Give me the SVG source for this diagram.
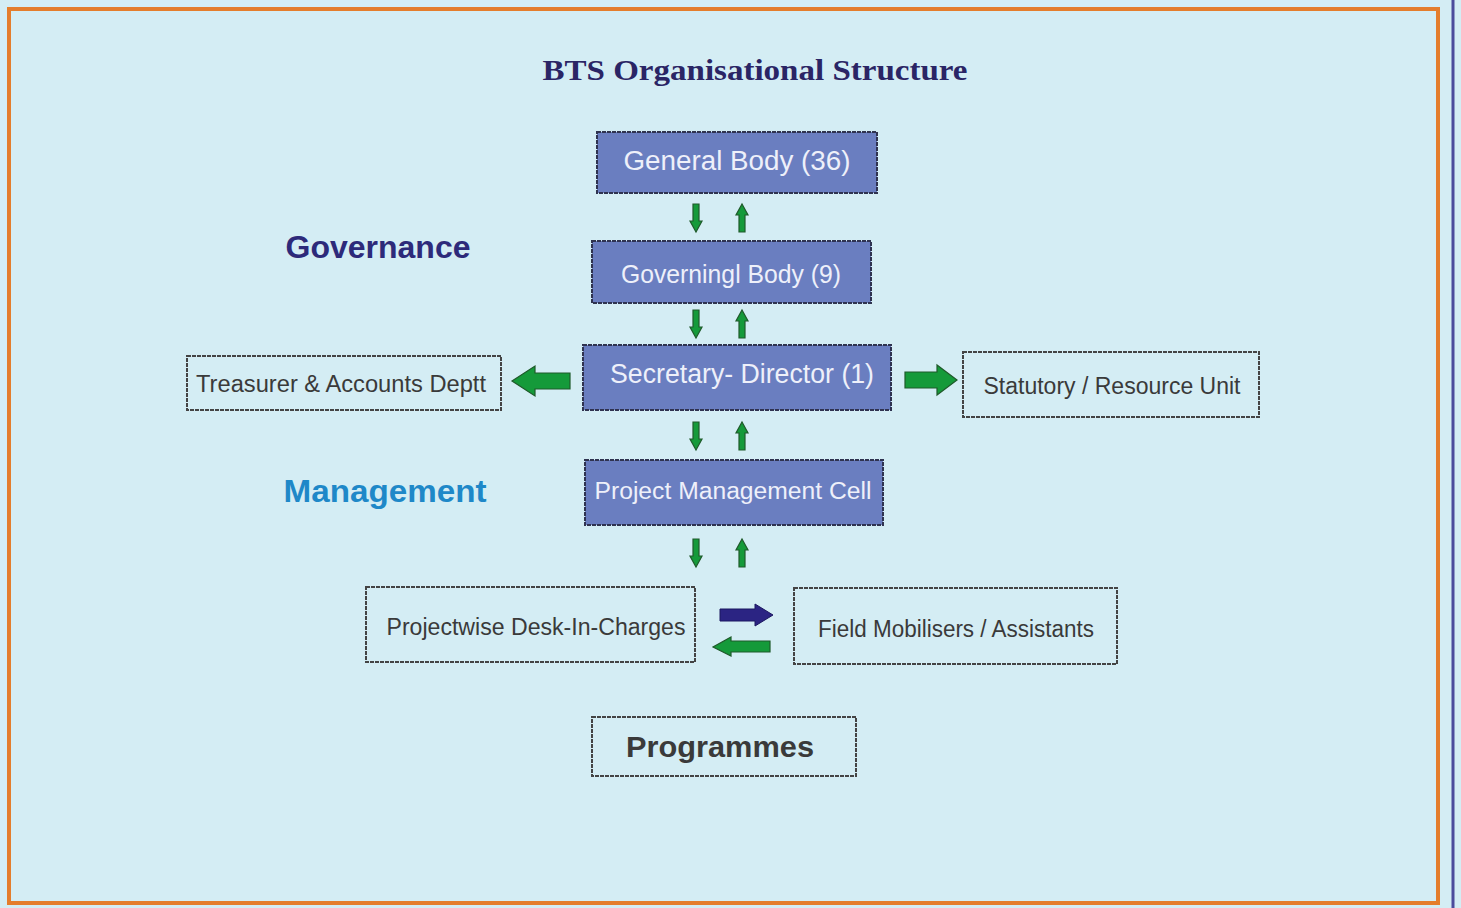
<svg xmlns="http://www.w3.org/2000/svg" xmlns:xlink="http://www.w3.org/1999/xlink" width="1461" height="908" viewBox="0 0 1461 908">
<style>
.bg{fill:#d4edf4}
.blue{fill:#6a7ec0;stroke:#2f3350;stroke-width:2;stroke-dasharray:4 1}
.white{fill:none;stroke:#444;stroke-width:2;stroke-dasharray:4 1}
.wt{font-family:"Liberation Sans",Arial,sans-serif;fill:#eef0fa;text-anchor:middle}
.gt{font-family:"Liberation Sans",Arial,sans-serif;fill:#3a3a3a;text-anchor:middle}
.green{fill:#159a3a;stroke:#1f5a2a;stroke-width:1.2}
.navy{fill:#2b2483;stroke:#1c1860;stroke-width:1}
</style>
<defs>
<path id="dn" d="M-3,-14 L3,-14 L3,3 L6,3 L0,14 L-6,3 L-3,3 Z"/>
<path id="up" d="M-3,14 L3,14 L3,-3 L6,-3 L0,-14 L-6,-3 L-3,-3 Z"/>
<path id="bigR" d="M-26,-8 L6,-8 L6,-15 L26,0 L6,15 L6,8 L-26,8 Z"/>
<path id="bigL" d="M29,-8 L-6,-8 L-6,-15 L-29,0 L-6,15 L-6,8 L29,8 Z"/>
</defs>
<rect class="bg" x="0" y="0" width="1461" height="908"/>
<rect x="9" y="9" width="1429" height="894" fill="none" stroke="#e47d2c" stroke-width="4"/>
<line x1="1453" y1="0" x2="1453" y2="908" stroke="#4c4c9c" stroke-width="3"/>
<text x="755" y="80" font-family="'Liberation Serif','Times New Roman',serif" font-weight="bold" font-size="30" fill="#2a2565" text-anchor="middle" textLength="425" lengthAdjust="spacingAndGlyphs">BTS Organisational Structure</text>
<text x="378" y="258" font-family="'Liberation Sans',Arial,sans-serif" font-weight="bold" font-size="31" fill="#2d2a7a" text-anchor="middle" textLength="185" lengthAdjust="spacingAndGlyphs">Governance</text>
<text x="385" y="502" font-family="'Liberation Sans',Arial,sans-serif" font-weight="bold" font-size="31" fill="#1e88c8" text-anchor="middle" textLength="203" lengthAdjust="spacingAndGlyphs">Management</text>
<g id="general-body"><rect class="blue" x="597" y="132" width="280" height="61"/><text class="wt" x="737" y="170" font-size="27" textLength="227" lengthAdjust="spacingAndGlyphs">General Body (36)</text></g>
<g id="governing-body"><rect class="blue" x="592" y="241" width="279" height="62"/><text class="wt" x="731" y="283" font-size="26" textLength="220" lengthAdjust="spacingAndGlyphs">Governingl Body (9)</text></g>
<g id="secretary-director"><rect class="blue" x="583" y="345" width="308" height="65"/><text class="wt" x="742" y="383" font-size="27" textLength="264" lengthAdjust="spacingAndGlyphs">Secretary- Director (1)</text></g>
<g id="project-management-cell"><rect class="blue" x="585" y="460" width="298" height="65"/><text class="wt" x="733" y="499" font-size="23" textLength="277" lengthAdjust="spacingAndGlyphs">Project Management Cell</text></g>
<g id="treasurer"><rect class="white" x="187" y="356" width="314" height="54"/><text class="gt" x="341" y="392" font-size="23" textLength="290" lengthAdjust="spacingAndGlyphs">Treasurer &amp; Accounts Deptt</text></g>
<g id="statutory"><rect class="white" x="963" y="352" width="296" height="65"/><text class="gt" x="1112" y="394" font-size="23" textLength="257" lengthAdjust="spacingAndGlyphs">Statutory / Resource Unit</text></g>
<g id="projectwise"><rect class="white" x="366" y="587" width="329" height="75"/><text class="gt" x="536" y="635" font-size="23" textLength="299" lengthAdjust="spacingAndGlyphs">Projectwise Desk-In-Charges</text></g>
<g id="field-mobilisers"><rect class="white" x="794" y="588" width="323" height="76"/><text class="gt" x="956" y="637" font-size="23" textLength="276" lengthAdjust="spacingAndGlyphs">Field Mobilisers / Assistants</text></g>
<g id="programmes"><rect class="white" x="592" y="717" width="264" height="59"/><text class="gt" x="720" y="757" font-size="30" font-weight="bold" textLength="188" lengthAdjust="spacingAndGlyphs">Programmes</text></g>
<g id="connectors">
<use xlink:href="#dn" class="green" x="696" y="218"/>
<use xlink:href="#up" class="green" x="742" y="218"/>
<use xlink:href="#dn" class="green" x="696" y="324"/>
<use xlink:href="#up" class="green" x="742" y="324"/>
<use xlink:href="#dn" class="green" x="696" y="436"/>
<use xlink:href="#up" class="green" x="742" y="436"/>
<use xlink:href="#dn" class="green" x="696" y="553"/>
<use xlink:href="#up" class="green" x="742" y="553"/>
<use xlink:href="#bigL" class="green" x="541" y="381"/>
<use xlink:href="#bigR" class="green" x="931" y="380"/>
<path class="navy" d="M720,609 L755,609 L755,604 L773,615 L755,626 L755,621 L720,621 Z"/>
<path class="green" d="M770,641 L731,641 L731,637 L713,647 L731,656 L731,652 L770,652 Z"/>
</g>
</svg>
